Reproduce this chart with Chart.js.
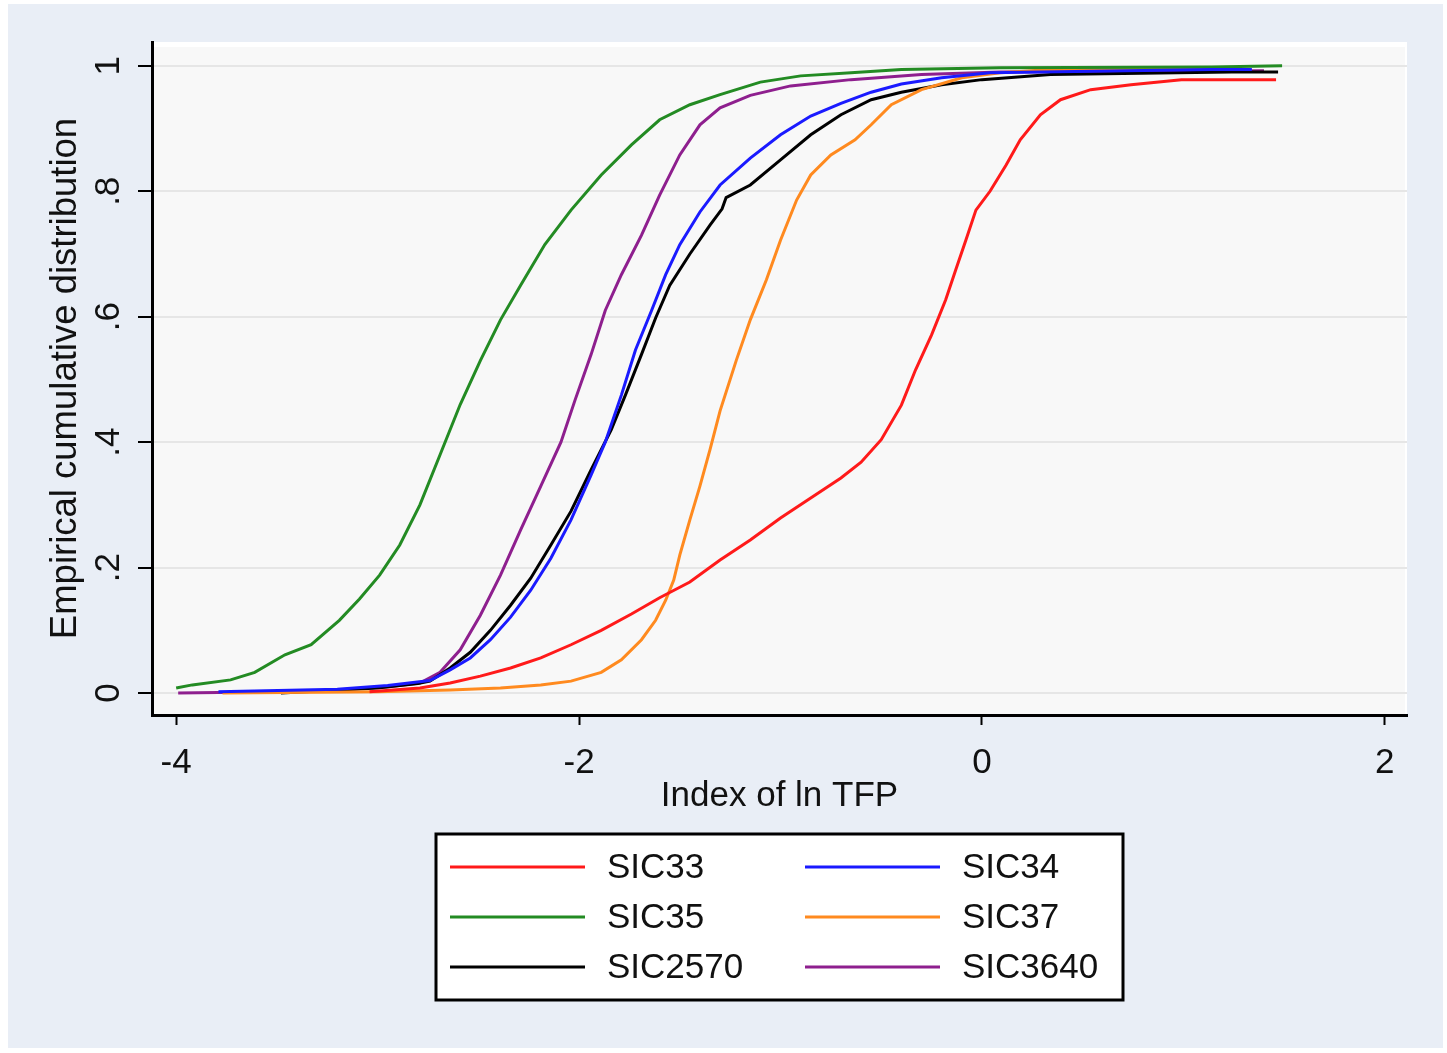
<!DOCTYPE html>
<html>
<head>
<meta charset="utf-8">
<script src="https://cdn.jsdelivr.net/npm/chart.js@4.4.1/dist/chart.umd.min.js"></script>
<style>
  html, body { margin: 0; padding: 0; background: #fff; }
  #wrap { width: 1447px; height: 1053px; }
</style>
</head>
<body>
<div id="wrap"><canvas id="cdf" width="1447" height="1053"></canvas></div>
<script>
// ECDF of the ln TFP index by industry, [x, share]
const sic33 = [[-3.04,0.002],[-2.79,0.008],[-2.64,0.016],[-2.49,0.027],[-2.34,0.04],[-2.19,0.056],[-2.04,0.077],[-1.89,0.10],[-1.74,0.126],[-1.60,0.152],[-1.45,0.177],[-1.30,0.212],[-1.15,0.244],[-1.00,0.279],[-0.85,0.311],[-0.70,0.343],[-0.60,0.368],[-0.50,0.404],[-0.40,0.459],[-0.33,0.515],[-0.25,0.571],[-0.18,0.627],[-0.13,0.675],[-0.08,0.722],[-0.03,0.77],[0.04,0.80],[0.12,0.842],[0.19,0.882],[0.29,0.922],[0.39,0.946],[0.54,0.962],[0.74,0.97],[0.99,0.978],[1.46,0.978]];
const sic34 = [[-3.79,0.002],[-3.2,0.006],[-2.95,0.012],[-2.74,0.02],[-2.64,0.037],[-2.54,0.056],[-2.44,0.085],[-2.34,0.121],[-2.24,0.164],[-2.14,0.215],[-2.04,0.276],[-1.94,0.348],[-1.87,0.40],[-1.79,0.475],[-1.72,0.547],[-1.64,0.61],[-1.57,0.667],[-1.50,0.715],[-1.40,0.767],[-1.30,0.81],[-1.15,0.853],[-1.00,0.89],[-0.85,0.92],[-0.70,0.94],[-0.55,0.958],[-0.40,0.971],[-0.20,0.981],[0.04,0.989],[1.14,0.994],[1.34,0.994]];
const sic35 = [[-4.0,0.008],[-3.92,0.013],[-3.73,0.021],[-3.61,0.033],[-3.46,0.061],[-3.33,0.077],[-3.19,0.116],[-3.09,0.15],[-2.99,0.188],[-2.89,0.236],[-2.79,0.30],[-2.69,0.38],[-2.59,0.46],[-2.49,0.53],[-2.39,0.595],[-2.29,0.65],[-2.17,0.715],[-2.04,0.77],[-1.89,0.826],[-1.74,0.874],[-1.60,0.914],[-1.45,0.938],[-1.30,0.954],[-1.10,0.974],[-0.90,0.984],[-0.65,0.989],[-0.40,0.994],[0.09,0.997],[1.14,0.998],[1.49,1.0]];
const sic37 = [[-3.77,0.0],[-3.0,0.002],[-2.64,0.005],[-2.39,0.008],[-2.19,0.013],[-2.04,0.019],[-1.89,0.033],[-1.79,0.053],[-1.69,0.085],[-1.62,0.116],[-1.57,0.148],[-1.53,0.18],[-1.50,0.22],[-1.45,0.276],[-1.40,0.33],[-1.35,0.388],[-1.30,0.45],[-1.22,0.53],[-1.15,0.595],[-1.07,0.659],[-1.00,0.722],[-0.92,0.786],[-0.85,0.826],[-0.75,0.858],[-0.63,0.882],[-0.55,0.906],[-0.45,0.938],[-0.30,0.962],[-0.10,0.981],[0.09,0.989],[0.34,0.994],[1.14,0.995]];
const sic2570 = [[-3.48,0.0],[-3.0,0.008],[-2.8,0.015],[-2.74,0.019],[-2.64,0.04],[-2.54,0.065],[-2.44,0.10],[-2.34,0.14],[-2.24,0.183],[-2.14,0.236],[-2.04,0.29],[-1.94,0.356],[-1.84,0.42],[-1.77,0.475],[-1.69,0.54],[-1.62,0.598],[-1.55,0.65],[-1.45,0.70],[-1.35,0.746],[-1.29,0.772],[-1.27,0.79],[-1.15,0.81],[-1.00,0.85],[-0.85,0.89],[-0.70,0.922],[-0.55,0.946],[-0.40,0.958],[-0.20,0.97],[0.0,0.978],[0.34,0.986],[1.24,0.99],[1.47,0.99]];
const sic3640 = [[-3.99,0.0],[-3.3,0.003],[-2.95,0.01],[-2.79,0.016],[-2.69,0.033],[-2.59,0.069],[-2.49,0.124],[-2.39,0.188],[-2.29,0.26],[-2.19,0.33],[-2.09,0.40],[-2.02,0.467],[-1.94,0.54],[-1.87,0.61],[-1.79,0.667],[-1.69,0.73],[-1.60,0.794],[-1.50,0.858],[-1.40,0.906],[-1.30,0.933],[-1.15,0.953],[-0.95,0.968],[-0.65,0.978],[-0.30,0.986],[0.09,0.99],[1.40,0.992]];

const seriesNames = ['SIC33', 'SIC34', 'SIC35', 'SIC37', 'SIC2570', 'SIC3640'];
const seriesData = [sic33, sic34, sic35, sic37, sic2570, sic3640];
const seriesColors = ['#ff1a1a', '#1a1aff', '#238b23', '#ff8a1f', '#000000', '#8e1f8e'];

const xTicks = [-4, -2, 0, 2];
const yTicks = [0, 0.2, 0.4, 0.6, 0.8, 1];

const FONT = "'Liberation Sans', Arial, sans-serif";

function stataNum(v) {
    if (v === 0 || v === 1) return String(v);
    return String(Math.round(v * 10) / 10).replace(/^0/, '');
}

// page + plot region backgrounds
const backdrop = {
    id: 'backdrop',
    beforeDraw(chart) {
        const { ctx, chartArea: a } = chart;
        ctx.save();
        ctx.fillStyle = '#ffffff';
        ctx.fillRect(0, 0, chart.width, chart.height);
        ctx.fillStyle = '#e9eef6';
        ctx.fillRect(8, 4, 1435, 1044);
        ctx.fillStyle = '#ffffff';
        ctx.fillRect(a.left, a.top, a.right - a.left, a.bottom - a.top);
        ctx.fillStyle = '#f8f8f8';
        ctx.fillRect(a.left, a.top + 5, a.right - a.left - 2, a.bottom - a.top - 5);
        ctx.restore();
    }
};

// two-column boxed key below the x axis
const boxLegend = {
    id: 'boxLegend',
    afterDraw(chart) {
        const { ctx, chartArea: a } = chart;
        const cx = (a.left + a.right) / 2;
        const w = 687, h = 166, top = 834;
        const left = cx - w / 2;
        ctx.save();
        ctx.fillStyle = '#ffffff';
        ctx.fillRect(left, top, w, h);
        ctx.strokeStyle = '#000';
        ctx.lineWidth = 3;
        ctx.strokeRect(left, top, w, h);
        ctx.font = '35px ' + FONT;
        ctx.textBaseline = 'middle';
        ctx.textAlign = 'left';
        chart.data.datasets.forEach((ds, i) => {
            const col = i % 2, row = Math.floor(i / 2);
            const x0 = left + 14 + col * 355;
            const y = top + 33 + row * 50;
            ctx.strokeStyle = ds.borderColor;
            ctx.lineWidth = 3;
            ctx.beginPath();
            ctx.moveTo(x0, y);
            ctx.lineTo(x0 + 135, y);
            ctx.stroke();
            ctx.fillStyle = '#111';
            ctx.fillText(ds.label, x0 + 157, y + 1);
        });
        ctx.restore();
    }
};

new Chart(document.getElementById('cdf'), {
    type: 'line',
    data: {
        datasets: seriesNames.map((name, i) => ({
            label: name,
            data: seriesData[i].map(([x, y]) => ({ x, y })),
            borderColor: seriesColors[i],
            borderWidth: 3,
            pointRadius: 0,
            tension: 0,
            fill: false
        }))
    },
    options: {
        responsive: false,
        animation: false,
        layout: { padding: { top: 42, right: 40, left: 0, bottom: 218 } },
        plugins: { legend: { display: false }, tooltip: { enabled: false } },
        scales: {
            x: {
                type: 'linear',
                min: -4.12,
                max: 2.11,
                afterBuildTicks: s => { s.ticks = xTicks.map(v => ({ value: v })); },
                afterFit: s => { s.height = 120; },
                grid: { drawOnChartArea: false, tickLength: 10, tickColor: '#000', tickWidth: 2 },
                border: { display: true, color: '#000', width: 3 },
                ticks: {
                    color: '#111', padding: 17, maxRotation: 0,
                    font: { family: FONT, size: 35 },
                    callback: v => String(v)
                },
                title: {
                    display: true, text: 'Index of ln TFP', color: '#111',
                    font: { family: FONT, size: 35 },
                    padding: { top: 0, bottom: 18 }
                }
            },
            y: {
                type: 'linear',
                min: -0.035,
                max: 1.038,
                afterBuildTicks: s => { s.ticks = yTicks.map(v => ({ value: v })); },
                afterFit: s => { s.width = 152; },
                grid: { color: '#e6e6e6', lineWidth: 2, tickLength: 14, tickColor: '#000', tickWidth: 2 },
                border: { display: true, color: '#000', width: 3 },
                ticks: {
                    color: '#111', padding: 14, minRotation: 90, maxRotation: 90,
                    crossAlign: 'center',
                    font: { family: FONT, size: 35 },
                    callback: v => stataNum(v)
                },
                title: {
                    display: true, text: 'Empirical cumulative distribution', color: '#111',
                    font: { family: FONT, size: 36.5 },
                    padding: { top: 44, bottom: 0 }
                }
            }
        }
    },
    plugins: [backdrop, boxLegend]
});
</script>
</body>
</html>
